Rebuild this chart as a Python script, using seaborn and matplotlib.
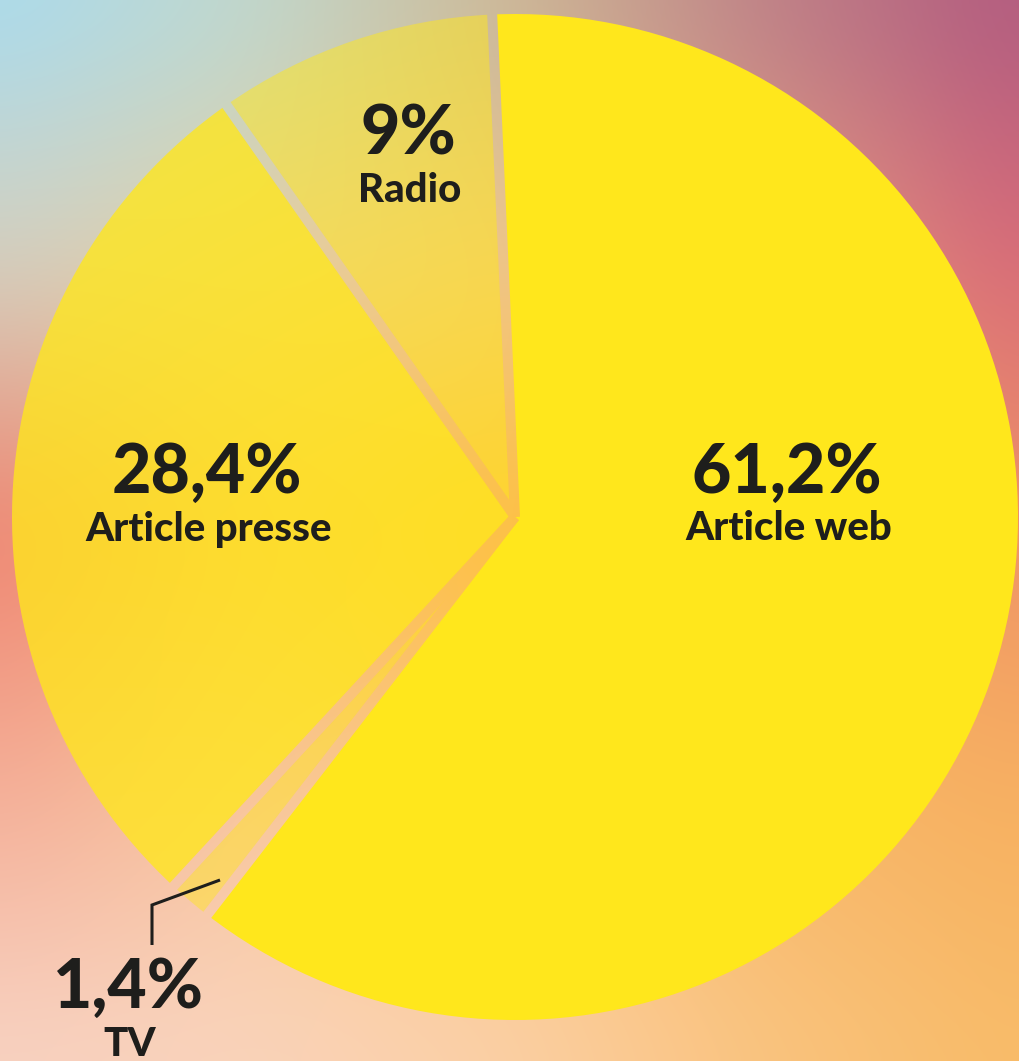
import numpy as np
import matplotlib
matplotlib.use("Agg")
import matplotlib.pyplot as plt
import seaborn as sns
from matplotlib.patches import Polygon
from matplotlib.colors import to_rgb

# Data
labels = ['Article web', 'TV', 'Article presse', 'Radio']
shares = [61.2, 1.4, 28.4, 9.0]
share_text = ['61,2%', '1,4%', '28,4%', '9%']
alphas = [1.0, 0.45, 0.78, 0.5]

W, H = 1020, 1061
sns.set_theme(style='white')
plt.rcParams['font.family'] = ['Lato', 'DejaVu Sans']

# background gradient (control colours, top -> bottom, left -> right)
bg_hex = [
    ['#A8DCF0', '#BED8D0', '#CAB898', '#BC8088', '#B05A80'],
    ['#D4D0C0', '#E8D0A0', '#F2C888', '#E8A080', '#D86878'],
    ['#EE8072', '#FAB868', '#FFC238', '#FAB458', '#EE9068'],
    ['#F4AE98', '#F8C8A0', '#FCC878', '#F8B868', '#F7B060'],
    ['#F8D4C4', '#FAD4BC', '#FBD0A8', '#FAC480', '#F8BC68'],
]
grid = np.array([[to_rgb(c) for c in row] for row in bg_hex])
gx = np.linspace(0, W, 5)
gy = np.linspace(0, H, 5)
n = 256
xs = np.linspace(0, W, n)
ys = np.linspace(0, H, n)
tmp = np.stack([np.stack([np.interp(xs, gx, grid[i, :, k]) for k in range(3)], -1) for i in range(5)])
bg = np.stack([np.stack([np.interp(ys, gy, tmp[:, j, k]) for k in range(3)], -1) for j in range(n)], 1)

# smooth the creases a bit
kern = np.ones(25) / 25
for _ in range(3):
    pad = np.pad(bg, ((12, 12), (12, 12), (0, 0)), mode='edge')
    pad = np.apply_along_axis(lambda v: np.convolve(v, kern, mode='same'), 0, pad)
    pad = np.apply_along_axis(lambda v: np.convolve(v, kern, mode='same'), 1, pad)
    bg = pad[12:-12, 12:-12]
bg = np.clip(bg, 0, 1)

fig = plt.figure(figsize=(W / 100, H / 100), dpi=100)
ax = fig.add_axes([0, 0, 1, 1])
ax.imshow(bg, extent=[0, W, 0, H], origin='upper', interpolation='bicubic', zorder=0)

cx, cy = 515, H - 517
R = 503
start = 92.6
wedges, _ = ax.pie(shares, colors=['#FFE71C'] * len(shares), startangle=start,
                   counterclock=False, center=(cx, cy), radius=R, frame=True,
                   wedgeprops=dict(linewidth=0))
for w, a in zip(wedges, alphas):
    w.set_alpha(a)
    w.set_zorder(2)

# gaps between slices show the background
gap = 10
bounds = start - 360 * np.concatenate([[0], np.cumsum(shares)[:-1]]) / 100
c = np.array([cx, cy])
for th in np.radians(bounds):
    d = np.array([np.cos(th), np.sin(th)])
    nv = np.array([-np.sin(th), np.cos(th)])
    poly = [c + nv * gap / 2, c + nv * gap / 2 + d * (R + 40),
            c - nv * gap / 2 + d * (R + 40), c - nv * gap / 2]
    im = ax.imshow(bg, extent=[0, W, 0, H], origin='upper', interpolation='bicubic', zorder=3)
    im.set_clip_path(Polygon(poly, closed=True, transform=ax.transData))

# labels
ink = '#1E1E1C'
label_pos = {'Article web': (787, 473), 'TV': (128, 988),
             'Article presse': (207, 473), 'Radio': (408, 135)}
for name, txt in zip(labels, share_text):
    x, y = label_pos[name]
    ax.text(x, H - y, txt, ha='center', va='center', fontsize=49,
            fontweight='black', color=ink, zorder=6)
    ax.text(x + 2, H - y - 56, name, ha='center', va='center', fontsize=29,
            fontweight='black', color=ink, zorder=6)

# leader line for TV
ax.plot([220, 152, 152], [H - 880, H - 905, H - 945], color=ink, lw=2.2,
        zorder=6, solid_joinstyle='miter', solid_capstyle='butt')

ax.set_xlim(0, W)
ax.set_ylim(0, H)
ax.set_aspect('equal')
ax.axis('off')
fig.savefig('out.png', dpi=100)
